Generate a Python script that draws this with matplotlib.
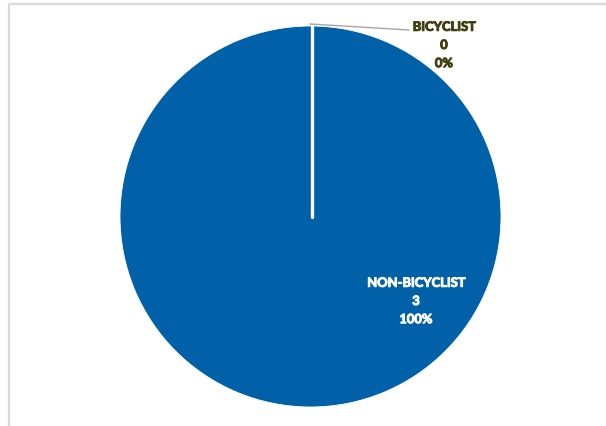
import matplotlib
matplotlib.use("Agg")
import numpy as np
import matplotlib.pyplot as plt
import matplotlib.patheffects as pe

categories = ["BICYCLIST", "NON-BICYCLIST"]
values = [0, 3]
percents = ["0%", "100%"]
colors = ["#0060a8", "#0060a8"]

W, H = 606, 427
fig = plt.figure(figsize=(W / 100, H / 100), dpi=100)
ax = fig.add_axes([0, 0, 1, 1])

# chart border (light gray, top and left visible)
ax.plot([9, 9], [0, H - 5], color="#d9d9d9", lw=1.6, solid_capstyle="butt")
ax.plot([9, W], [H - 5, H - 5], color="#d9d9d9", lw=1.6, solid_capstyle="butt")

cx, cy, r = 310.5, H - 217.5, 190.5
wedges, _ = ax.pie(values, colors=colors, startangle=90, counterclock=False,
                   center=(cx, cy), radius=r, frame=True,
                   wedgeprops=dict(edgecolor="white", linewidth=0.6))
ax.set_xlim(0, W)
ax.set_ylim(0, H)
ax.set_aspect("equal")
ax.axis("off")

# white separator at the zero-size slice boundary
ang = np.deg2rad(wedges[0].theta1)
ax.plot([cx + 1.5, cx + 1.5 + r * np.cos(ang)], [cy, cy + r * np.sin(ang)],
        color="white", lw=2.4, solid_capstyle="round", zorder=5)

fam = ["Lato", "DejaVu Sans"]
# leader line for zero slice
ax.plot([310, 409], [H - 25, H - 31], color="#a6a6a6", lw=1.0, zorder=6)
dark = "#3f3f0f"
ax.text(444, H - 46, f"{categories[0]}\n{values[0]}\n{percents[0]}", ha="center", va="center",
        color=dark, fontsize=9.3, fontweight="bold", family=fam, linespacing=1.62,
        path_effects=[pe.withStroke(linewidth=0.7, foreground=dark)])
ax.text(416, H - 302, f"{categories[1]}\n{values[1]}\n{percents[1]}", ha="center", va="center",
        color="white", fontsize=9.3, fontweight="bold", family=fam, linespacing=1.62,
        path_effects=[pe.withStroke(linewidth=0.7, foreground="white")])

fig.savefig("out.png", dpi=100)
